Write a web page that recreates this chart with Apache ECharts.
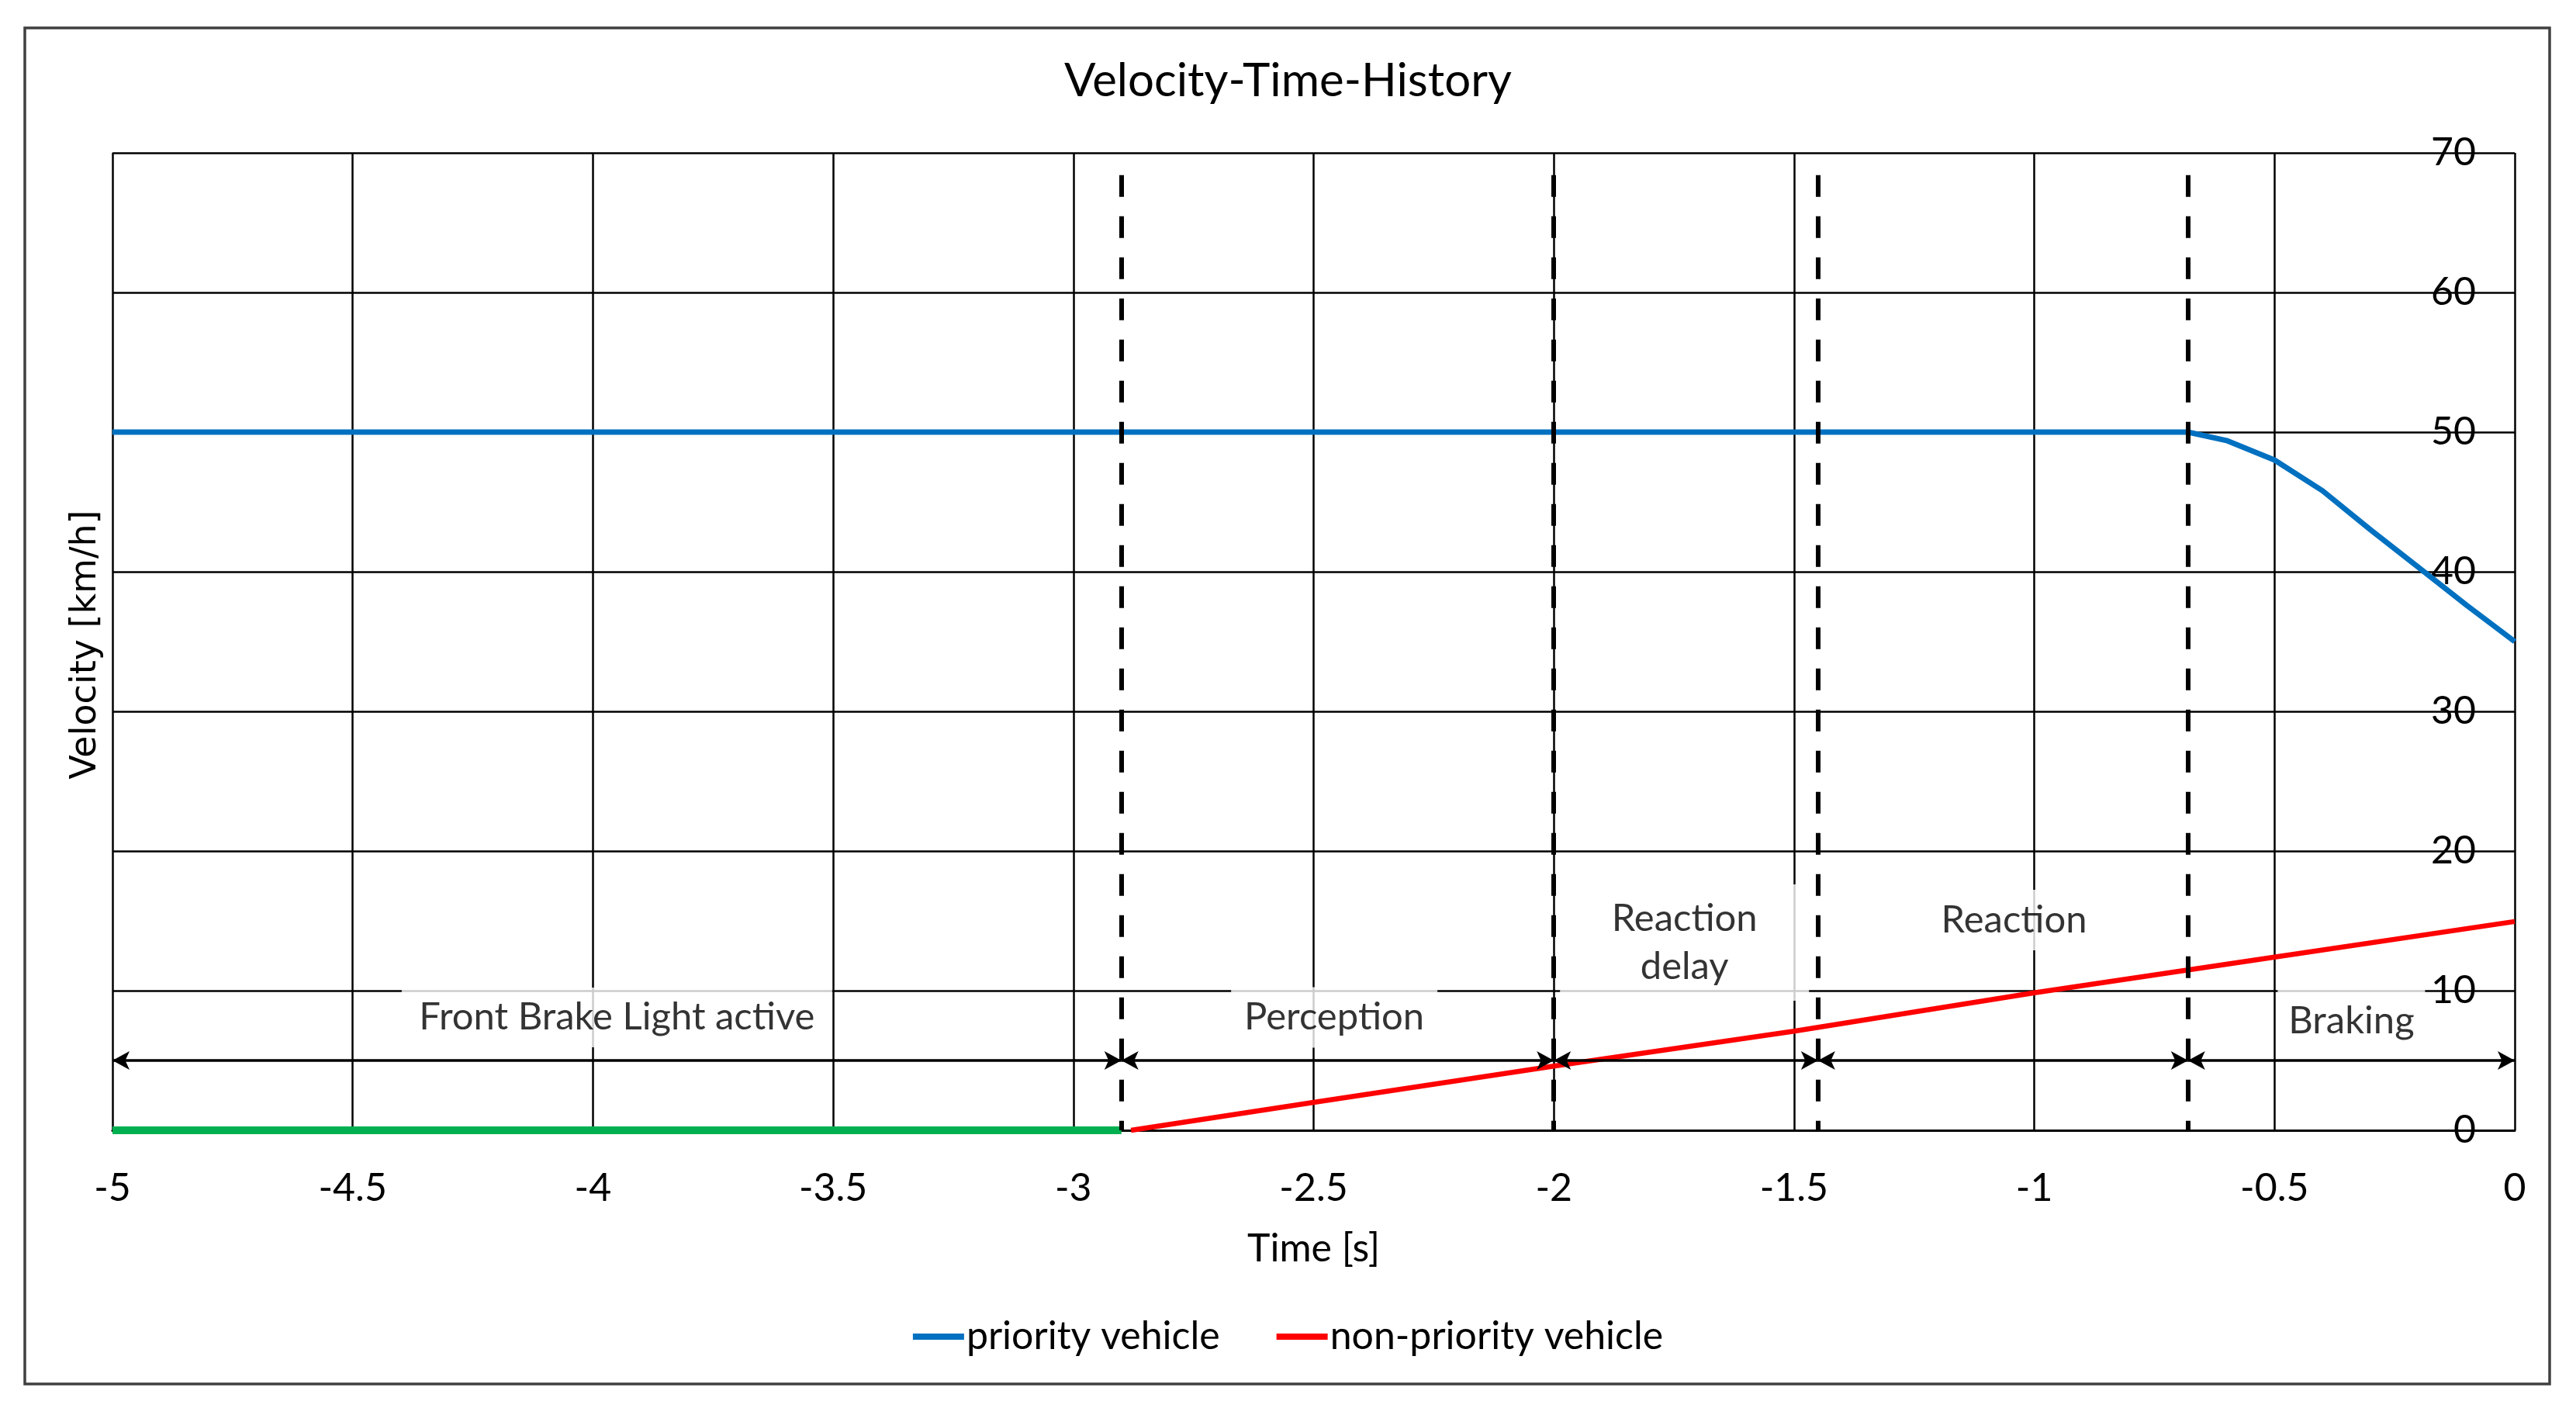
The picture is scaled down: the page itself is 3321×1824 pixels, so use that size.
<!DOCTYPE html>
<html><head><meta charset="utf-8">
<script src="https://cdn.jsdelivr.net/npm/echarts@6/dist/echarts.min.js"></script>
<style>html,body{margin:0;padding:0;background:#fff}#c{width:3321px;height:1824px}</style>
</head><body><div id="c"></div>
<script>
// ---- data ----
const priorityT = [-5, -0.68, -0.6, -0.5, -0.4, -0.3, -0.2, -0.1, 0];
const priorityV = [50, 50, 49.4, 48.0, 45.8, 43.0, 40.3, 37.6, 35.0];
const nonPriorityT = [-2.88, -2.5, -2.0, -1.5, -1.0, -0.5, 0];
const nonPriorityV = [0, 2.0, 4.6, 7.1, 9.85, 12.4, 14.95];
const brakeLightT = [-5, -2.9];
const brakeLightV = [0, 0];
const phaseBounds = [-5, -2.9, -2.0, -1.45, -0.68, 0];
const dashedLinesT = [-2.9, -2.0, -1.45, -0.68];
const dashedTop = 68.4;
const arrowLevel = 5;
const annotationText = ['Front Brake Light active', 'Perception', 'Reaction\ndelay', 'Reaction', 'Braking'];
const annotationX = [-3.95, -2.457, -1.728, -1.042, -0.34];
const annotationY = [8.08, 8.08, 13.44, 15.06, 7.83];
const xMin = -5, xMax = 0, xStep = 0.5;
const yMin = 0, yMax = 70, yStep = 10;
const seriesNames = ['priority vehicle', 'non-priority vehicle'];

// ---- styles ----
const FONT = 'Lato';
const boxSizes = [[555, 77], [266, 78], [321, 150], [217, 78], [190, 80]];

const pairs = (a, b) => a.map((v, i) => [v, b[i]]);

const chart = echarts.init(document.getElementById('c'), null, {renderer: 'canvas'});

const dashedData = dashedLinesT.map(t => [{coord: [t, dashedTop]}, {coord: [t, 0]}]);
const arrowData = [];
for (let i = 0; i < phaseBounds.length - 1; i++) {
  arrowData.push([{coord: [phaseBounds[i], arrowLevel]}, {coord: [phaseBounds[i + 1], arrowLevel]}]);
}

const annData = annotationText.map((t, i) => ({
  value: [annotationX[i], annotationY[i]],
  label: {
    show: true, position: 'inside', formatter: t,
    width: boxSizes[i][0], height: boxSizes[i][1],
    align: 'center', verticalAlign: 'middle',
    backgroundColor: '#ffffff', color: '#000',
    fontFamily: FONT, fontSize: 49, lineHeight: 62
  }
}));

chart.setOption({
  animation: false,
  backgroundColor: '#ffffff',
  title: {
    text: 'Velocity-Time-History', left: 'center', top: 70,
    textStyle: {fontFamily: FONT, fontSize: 60, fontWeight: 'normal', color: '#000'}
  },
  legend: {
    data: seriesNames, left: 'center', top: 1693,
    icon: 'rect', itemWidth: 66, itemHeight: 8, itemGap: 73,
    textStyle: {fontFamily: FONT, fontSize: 50, color: '#000', padding: [0, 0, 0, -2]}
  },
  grid: {left: 145, right: 79, top: 197, bottom: 367, containLabel: false},
  xAxis: {
    type: 'value', min: xMin, max: xMax, interval: xStep,
    name: 'Time [s]', nameLocation: 'middle', nameGap: 128,
    nameTextStyle: {fontFamily: FONT, fontSize: 50, color: '#000'},
    axisLine: {show: true, onZero: false, lineStyle: {color: '#000', width: 3}},
    axisTick: {show: false},
    axisLabel: {fontFamily: FONT, fontSize: 50, color: '#000', margin: 50},
    splitLine: {show: true, showMinLine: true, showMaxLine: true, lineStyle: {color: '#000', width: 2.5}}
  },
  yAxis: {
    type: 'value', min: yMin, max: yMax, interval: yStep, position: 'right',
    axisLine: {show: false},
    axisTick: {show: false},
    axisLabel: {inside: true, margin: 50, fontFamily: FONT, fontSize: 50, color: '#000'},
    splitLine: {show: true, showMinLine: true, showMaxLine: true, lineStyle: {color: '#000', width: 2.5}}
  },
  graphic: [
    {type: 'rect', shape: {x: 32, y: 36, width: 3255, height: 1748}, style: {fill: 'none', stroke: '#404040', lineWidth: 3.5}, z: 100, silent: true},
    {type: 'text', x: 111, y: 831, rotation: Math.PI / 2, silent: true,
     style: {text: 'Velocity [km/h]', fontFamily: 'DejaVu Sans', fontSize: 46, fill: '#000', align: 'center', verticalAlign: 'middle'}}
  ],
  series: [
    {
      name: 'brake light', type: 'line', data: pairs(brakeLightT, brakeLightV),
      symbol: 'none', lineStyle: {color: '#00B050', width: 10}, z: 3, silent: true,
      markLine: {
        silent: true, symbol: ['none', 'none'], label: {show: false}, animation: false,
        lineStyle: {color: '#000', width: 6, type: [28, 25]},
        data: dashedData
      }
    },
    {
      name: 'phases', type: 'line', data: [], symbol: 'none', silent: true,
      markLine: {
        silent: true, symbol: ['arrow', 'arrow'], symbolSize: [18, 22], label: {show: false}, animation: false,
        lineStyle: {color: '#000', width: 3.5, type: 'solid'},
        data: arrowData
      }
    },
    {
      name: seriesNames[0], type: 'line', data: pairs(priorityT, priorityV),
      symbol: 'none', color: '#0070C0', lineStyle: {color: '#0070C0', width: 7}, z: 4
    },
    {
      name: seriesNames[1], type: 'line', data: pairs(nonPriorityT, nonPriorityV),
      symbol: 'none', color: '#FF0000', lineStyle: {color: '#FF0000', width: 6.5}, z: 4
    },
    {
      name: 'annotations', type: 'scatter', symbolSize: 0, silent: true, z: 5,
      data: annData
    }
  ]
});
</script></body></html>
